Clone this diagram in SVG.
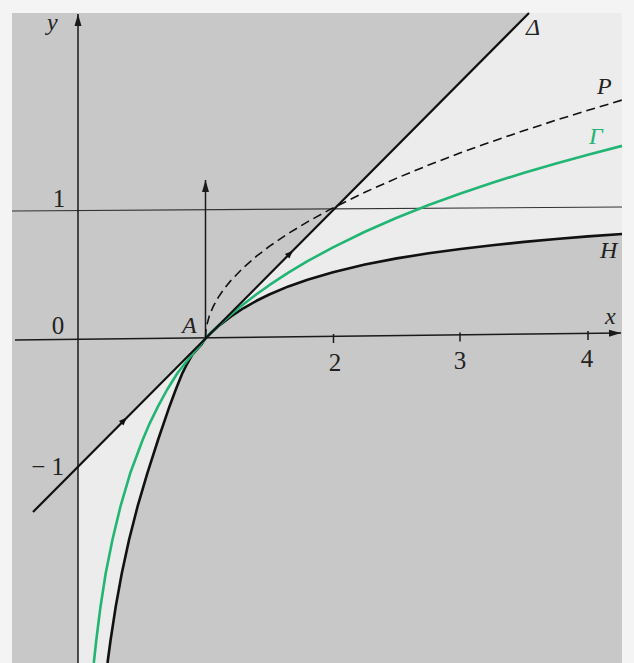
<svg xmlns="http://www.w3.org/2000/svg" width="634" height="663" viewBox="0 0 634 663">
<style>
.ax{stroke:#1a1a1a;stroke-width:1.5;fill:none}
.thin{stroke:#333;stroke-width:1.2;fill:none}
.blk{stroke:#111;stroke-width:2.2;fill:none;stroke-linejoin:round}
.hc{stroke:#111;stroke-width:2.6;fill:none;stroke-linejoin:round}
.grn{stroke:#22b574;stroke-width:2.6;fill:none;stroke-linejoin:round}
.dash{stroke:#111;stroke-width:1.6;fill:none;stroke-dasharray:9 5}
.num{font-family:"Liberation Serif",serif;font-size:25px;fill:#222}
.lab{font-family:"Liberation Serif",serif;font-style:italic;font-size:24px;fill:#222}
</style>
<defs>
<marker id="ah" viewBox="-13 -4 14 8" refX="0" refY="0" markerWidth="14" markerHeight="8" markerUnits="userSpaceOnUse" orient="auto">
<path d="M0,0 L-12,-3.5 L-12,3.5 z" fill="#1a1a1a"/>
</marker>
<marker id="mid" viewBox="-5 -4 10 8" refX="0" refY="0" markerWidth="10" markerHeight="8" markerUnits="userSpaceOnUse" orient="auto">
<path d="M4,0 L-4,-3.2 L-4,3.2 z" fill="#111"/>
</marker>
</defs>
<rect width="634" height="663" fill="#f4f4f4"/>
<g id="background">
<rect x="12" y="13" width="610" height="650" fill="#c8c8c8"/>
<polygon fill="#ececec" points="205.5,338.2 529,13 622,13 622,233.94 588,236.42 556.125,239.02 524.25,241.91 492.375,245.19 460.5,248.93 428.625,253.28 396.75,258.4 364.875,264.56 333,272.15 307.5,279.65 288.375,286.41 269.25,294.47 256.5,300.77 243.75,308.01 231,316.42 218.25,326.34 211.875,331.99"/>
<polygon fill="#ececec" points="205.5,338.2 78,466.7 78,663 107.5,663 110.6,640 115.7,606.7 121.8,573.3 129,540 137.5,506.7 147.3,473.3 158,440 169.4,406.7 175.6,390 182.3,373.3 187,364 192,355 201,345"/>
</g>
<g id="axes">
<line class="thin" x1="12" y1="211" x2="622" y2="207"/>
<line class="ax" x1="15" y1="340" x2="621" y2="333" marker-end="url(#ah)"/>
<line class="ax" x1="78" y1="663" x2="78" y2="14" marker-end="url(#ah)"/>
<line class="ax" x1="333.5" y1="334" x2="333.5" y2="343"/>
<line class="ax" x1="460" y1="332.5" x2="460" y2="341.5"/>
<line class="ax" x1="588" y1="331" x2="588" y2="340"/>
<line class="ax" x1="205.5" y1="338" x2="205.5" y2="180" marker-end="url(#ah)"/>
</g>
<g id="curves">
<path id="H" class="hc" d="M107.5,663 L110.6,640 L115.7,606.7 L121.8,573.3 L129,540 L137.5,506.7 L147.3,473.3 L158,440 L169.4,406.7 L175.6,390 L182.3,373.3 L187,364 L192,355 L201,345 L205.5,338.2 L211.875,331.99 L218.25,326.34 L231,316.42 L243.75,308.01 L256.5,300.77 L269.25,294.47 L288.375,286.41 L307.5,279.65 L333,272.15 L364.875,264.56 L396.75,258.4 L428.625,253.28 L460.5,248.93 L492.375,245.19 L524.25,241.91 L556.125,239.02 L588,236.42 L622,233.94"/>
<path id="Gamma" class="grn" d="M93.8,663 L96.3,640 L100.5,606.7 L105.7,573.3 L112.4,540 L120.4,506.7 L130.2,473.3 L142.6,440 L149.7,423.3 L157.9,406.7 L166.9,390 L177.4,373.3 L184.5,364 L191.7,355 L200.3,345 L205.5,338.2 L211.875,331.84 L218.25,325.77 L231,314.41 L243.75,303.95 L256.5,294.24 L269.25,285.2 L288.375,272.68 L307.5,261.23 L333,247.33 L364.875,231.75 L396.75,217.76 L428.625,205.06 L460.5,193.43 L492.375,182.69 L524.25,172.72 L556.125,163.4 L588,154.66 L622,145.88"/>
<path id="P" class="dash" d="M205.5,338.2 L205.88,331.15 L206.775,325.33 L209.325,315.89 L213.15,306.61 L218.25,297.38 L224.625,288.16 L231,280.37 L243.75,267.28 L256.5,256.21 L269.25,246.44 L288.375,233.43 L307.5,221.83 L333,207.9 L364.875,192.28 L396.75,178.12 L428.625,165.06 L460.5,152.87 L492.375,141.4 L524.25,130.52 L556.125,120.16 L588,110.23 L622,100.06"/>
<path id="Delta" class="blk" d="M33,512 L124,420.45 L290,253.5 L529,13" marker-mid="url(#mid)"/>
</g>
<g id="labels">
<text class="lab" x="47" y="30">y</text>
<text class="lab" x="605" y="324">x</text>
<text class="num" x="59" y="207" text-anchor="middle">1</text>
<text class="num" x="58" y="334" text-anchor="middle">0</text>
<text class="num" x="64" y="475" text-anchor="end">− 1</text>
<text class="num" x="335" y="371" text-anchor="middle">2</text>
<text class="num" x="460" y="369" text-anchor="middle">3</text>
<text class="num" x="587" y="367" text-anchor="middle">4</text>
<text class="lab" x="182" y="333">A</text>
<text class="lab" x="526" y="35">Δ</text>
<text class="lab" x="597" y="94">P</text>
<text class="lab" x="589" y="144" style="fill:#22b574">Γ</text>
<text class="lab" x="600" y="258">H</text>
</g>
</svg>
